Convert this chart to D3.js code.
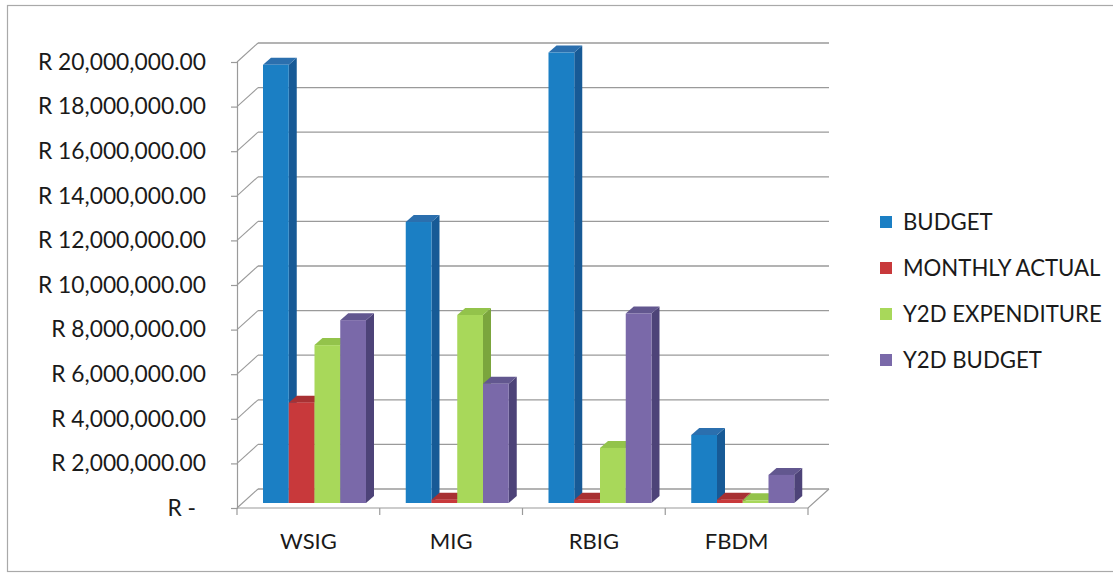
<!DOCTYPE html>
<html>
<head>
<meta charset="utf-8">
<script src="https://cdn.jsdelivr.net/npm/d3@7"></script>
<style>
  html, body { margin: 0; padding: 0; background: #fff; }
  svg { display: block; }
  text { font-family: Lato, "Open Sans", sans-serif; fill: #1a1a1a; }
</style>
</head>
<body>
<svg id="chart" width="1113" height="575"></svg>
<script>
// Grant programmes and their budget / spend figures (Rand)
const categories = ["WSIG", "MIG", "RBIG", "FBDM"];
const seriesNames = ["BUDGET", "MONTHLY ACTUAL", "Y2D EXPENDITURE", "Y2D BUDGET"];
const budget        = [19650000, 12600000, 20200000, 3050000];
const monthlyActual = [4500000, 150000, 150000, 150000];
const y2dExpenditure = [7080000, 8430000, 2470000, 120000];
const y2dBudget     = [8200000, 5350000, 8500000, 1260000];
const tickValues = [0, 2e6, 4e6, 6e6, 8e6, 10e6, 12e6, 14e6, 16e6, 18e6, 20e6];

const seriesValues = [budget, monthlyActual, y2dExpenditure, y2dBudget];
const palette = [
  { front: "#1b7fc4", side: "#175a96", top: "#2b6fae" },
  { front: "#c8393b", side: "#8f2a2c", top: "#a83133" },
  { front: "#a8d85a", side: "#7ba53d", top: "#93c34b" },
  { front: "#7a69a9", side: "#4d4378", top: "#62578f" }
];

const svg = d3.select("#chart");

// outer frame
svg.append("rect")
  .attr("x", 7.5).attr("y", 5.5).attr("width", 1200).attr("height", 566)
  .attr("fill", "none").attr("stroke", "#a9a9a9").attr("stroke-width", 1.2);

// 3D frame geometry: front axis plane and receding back wall
const depth = { dx: 21, dy: -19 };
const x0 = d3.scaleBand().domain(categories).range([237, 808]).paddingInner(0).paddingOuter(0);
const y = d3.scaleLinear().domain([0, 20e6]).range([508, 62]);
const x1 = d3.scaleBand().domain(seriesNames).range([26, 129]);

const gridColor = "#9a9a9a";
const grid = svg.append("g");

// back-wall gridlines and their left-wall diagonals
tickValues.forEach(v => {
  const yy = y(v);
  grid.append("line")
    .attr("x1", 237 + depth.dx).attr("x2", 808 + depth.dx)
    .attr("y1", yy + depth.dy).attr("y2", yy + depth.dy)
    .attr("stroke", gridColor).attr("stroke-width", 1.3);
  grid.append("line")
    .attr("x1", 237).attr("y1", yy)
    .attr("x2", 237 + depth.dx).attr("y2", yy + depth.dy)
    .attr("stroke", gridColor).attr("stroke-width", 1.1);
});

// floor outline
grid.append("path")
  .attr("d", `M237,${y(0)} L808,${y(0)} L${808 + depth.dx},${y(0) + depth.dy}`)
  .attr("fill", "none").attr("stroke", gridColor).attr("stroke-width", 1.2);

// category boundary ticks
d3.range(categories.length + 1).forEach(i => {
  const xx = 237 + i * x0.bandwidth();
  grid.append("line")
    .attr("x1", xx).attr("x2", xx).attr("y1", y(0)).attr("y2", y(0) + 7)
    .attr("stroke", gridColor).attr("stroke-width", 1.2);
});

// value axis
const yAxis = d3.axisLeft(y)
  .tickValues(tickValues)
  .tickSize(6)
  .tickPadding(25)
  .tickFormat(v => v === 0 ? "R -" : "R " + d3.format(",.2f")(v));
const ya = svg.append("g").attr("transform", "translate(237,0)").call(yAxis);
ya.select(".domain").attr("stroke", gridColor).attr("stroke-width", 1.2);
ya.selectAll(".tick line").attr("stroke", gridColor).attr("stroke-width", 1.2);
ya.selectAll("text").attr("font-size", 22.8).attr("fill", "#1a1a1a")
  .style("font-family", "Lato, 'Open Sans', sans-serif");
ya.selectAll(".tick").filter(d => d === 0).select("text").attr("dx", -10);

// category axis labels
const xAxis = d3.axisBottom(x0).tickSize(0).tickPadding(25);
const xa = svg.append("g").attr("transform", `translate(0,${y(0)})`).call(xAxis);
xa.select(".domain").remove();
xa.selectAll("text").attr("font-size", 22).attr("fill", "#1a1a1a")
  .style("font-family", "Lato, 'Open Sans', sans-serif");

// 3D bars: front face, right side face and top face
const bar = { dx: 8, dy: -7, base: -5 };
const bars = svg.append("g");
categories.forEach((cat, ci) => {
  seriesNames.forEach((s, si) => {
    const v = seriesValues[si][ci];
    const left = x0(cat) + x1(s);
    const w = x1.bandwidth();
    const bottom = y(0) + bar.base;
    const top = y(v) + bar.base;
    const c = palette[si];
    const g = bars.append("g");
    g.append("path")
      .attr("d", `M${left + w},${bottom} L${left + w + bar.dx},${bottom + bar.dy} L${left + w + bar.dx},${top + bar.dy} L${left + w},${top} Z`)
      .attr("fill", c.side);
    g.append("path")
      .attr("d", `M${left},${top} L${left + bar.dx},${top + bar.dy} L${left + w + bar.dx},${top + bar.dy} L${left + w},${top} Z`)
      .attr("fill", c.top);
    g.append("rect")
      .attr("x", left).attr("y", top).attr("width", w).attr("height", bottom - top)
      .attr("fill", c.front);
  });
});

// legend
const legend = svg.append("g").attr("transform", "translate(880,222)");
seriesNames.forEach((s, i) => {
  const row = legend.append("g").attr("transform", `translate(0,${i * 46})`);
  row.append("rect").attr("x", 0).attr("y", -6).attr("width", 12).attr("height", 12)
    .attr("fill", palette[i].front);
  row.append("text").attr("x", 23).attr("y", 0).attr("dy", "0.35em")
    .attr("font-size", 22.2).text(s);
});
</script>
</body>
</html>
